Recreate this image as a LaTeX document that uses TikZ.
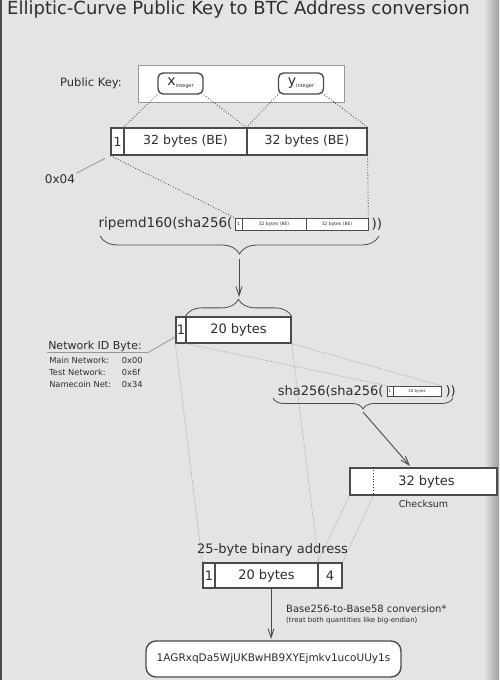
\documentclass[tikz,border=0pt]{standalone}
\usepackage{fontspec}
\setmainfont{DejaVu Sans}
\usetikzlibrary{calc,positioning,arrows.meta,decorations.pathreplacing,shapes}
\definecolor{bgray}{RGB}{228,228,228}
\definecolor{ink}{RGB}{45,45,45}
\definecolor{boxline}{RGB}{75,75,75}
\definecolor{faint}{RGB}{150,150,150}

\begin{document}
\begin{tikzpicture}[x=1pt,y=-1pt,
  cell/.style={rectangle,draw=boxline,fill=white,line width=1.3pt,inner sep=0pt,
    text=ink,minimum height=27pt,font=\fontsize{12.5}{14}\selectfont},
  tinycell/.style={rectangle,draw=boxline,fill=white,line width=0.6pt,inner sep=0pt,
    text=ink,font=\fontsize{4.5}{5}\selectfont},
  coord_box/.style={rectangle,rounded corners=5pt,draw=boxline,fill=white,
    line width=1.4pt,inner sep=0pt,minimum width=45pt,minimum height=21pt,text=ink},
  label/.style={text=ink,inner sep=1pt},
  map_line/.style={draw=ink,dotted,line width=0.8pt},
  faint_line/.style={draw=faint,densely dotted,line width=0.6pt},
  lead_line/.style={draw=faint,line width=0.8pt},
  flow/.style={-{Straight Barb[length=9pt,width=6pt]},draw=boxline,line width=0.9pt},
  brace_up/.style={decorate,decoration={brace,amplitude=17pt},draw=boxline,line width=0.8pt},
  brace_down/.style={decorate,decoration={brace,mirror,amplitude=#1},draw=boxline,line width=0.8pt}]

  % background and frame
  \fill[bgray] (0,0) rectangle (499,680);
  \shade[left color=bgray,right color=gray!75] (484,0) rectangle (499,680);
  \fill[boxline] (0,0) rectangle (2,680);
  \useasboundingbox (0,0) rectangle (499,680);

  \path (6,10) node(title) [label,anchor=west,font=\fontsize{18}{21}\selectfont]
    {Elliptic-Curve Public Key to BTC Address conversion};

  % public key
  \path (241,83.5) node(pk) [rectangle,draw=faint,fill=white,line width=0.6pt,
    minimum width=206pt,minimum height=37pt] {}
  (91,83) node(pklab) [label,font=\fontsize{11.5}{13}\selectfont] {Public Key:}
  (180.5,83.5) node(xi) [coord_box] {{\fontsize{14}{14}\selectfont x}\raisebox{-2pt}{\fontsize{5}{5}\selectfont integer}}
  (301,83.5) node(yi) [coord_box] {{\fontsize{14}{14}\selectfont y}\raisebox{-2pt}{\fontsize{5}{5}\selectfont integer}};

  % 65-byte key
  \path (117.5,141.5) node(c1) [cell,minimum width=13pt] {1}
  (185.5,141.5) node(c2) [cell,minimum width=123pt] {32 bytes (BE)}
  (307,141.5) node(c3) [cell,minimum width=120pt] {32 bytes (BE)}
  (60,179) node(hex) [label,font=\fontsize{12}{14}\selectfont] {0x04};

  \path (xi.south west) edge[map_line] (c2.north west)
  (xi.south east) edge[map_line] (c3.north west)
  (yi.south west) edge[map_line] (c3.north west)
  (yi.south east) edge[map_line] (c3.north east)
  (hex.north east) edge[lead_line,shorten >=6pt] (c1.south west);

  % ripemd160(sha256( ... ))
  \path (238.5,224) node(s1) [tinycell,minimum width=7pt,minimum height=12pt] {1}
  (274,224) node(s2) [tinycell,minimum width=64pt,minimum height=12pt] {32 bytes (BE)}
  (337,224) node(s3) [tinycell,minimum width=62pt,minimum height=12pt] {32 bytes (BE)}
  (s1.west) node(rip) [label,anchor=east,xshift=-1pt,font=\fontsize{13.5}{15}\selectfont] {ripemd160(sha256(}
  (s3.east) node(ripend) [label,anchor=west,xshift=2pt,font=\fontsize{13.5}{15}\selectfont] {))};

  \path (c1.south west) edge[map_line] (s1.north west)
  (c3.south east) edge[map_line] (s3.north east);

  \draw[brace_down=18pt] (100,236) -- (379,236);
  \coordinate (ripmid) at (239,259);

  % 21-byte hash
  \path (181,330) node(u1) [cell,minimum width=10pt,minimum height=26pt,font=\fontsize{13}{15}\selectfont] {1}
  (238.5,330) node(u2) [cell,minimum width=105pt,minimum height=26pt,font=\fontsize{13}{15}\selectfont] {20 bytes};
  \draw[brace_up] (u2.north west) -- (u2.north east);
  \coordinate (toptip) at (239,297);
  \path (ripmid) edge[flow] (toptip);

  % network id
  \path (95,346) node(netid) [label,font=\fontsize{11}{13}\selectfont] {Network ID Byte:}
  ($(netid.south west)+(1,0)$) node(netlist) [label,anchor=north west,yshift=-1pt,font=\fontsize{8.3}{12}\selectfont]
    {\begin{tabular}{@{}l@{\hspace{11pt}}l@{}}Main Network: & 0x00\\Test Network: & 0x6f\\Namecoin Net: & 0x34\end{tabular}};
  \draw[lead_line] (netid.south west) -- ($(netid.south east)+(5,0)$) -- ($(u1.west)!0.5!(u1.south west)$);

  % checksum
  \path (390,391) node(t1) [tinycell,minimum width=6pt,minimum height=10pt,font=\fontsize{4}{4}\selectfont] {1}
  (417,391) node(t2) [tinycell,minimum width=48pt,minimum height=10pt,font=\fontsize{4}{4}\selectfont] {20 bytes}
  (t1.west) node(sha) [label,anchor=east,xshift=-2pt,font=\fontsize{13}{15}\selectfont] {sha256(sha256(}
  (t2.east) node(shaend) [label,anchor=west,xshift=3pt,font=\fontsize{13}{15}\selectfont] {))};

  \path (u1.south east) edge[faint_line] (t1.north west)
  (u2.south east) edge[faint_line] (t2.north east);

  \draw[brace_down=11pt] (273,398) -- (453,398);
  \coordinate (shatip) at (363,412);

  \path (423.5,481.5) node(k) [cell,minimum width=147pt,font=\fontsize{13}{15}\selectfont] {\hspace{6pt}32 bytes}
  (k.south) node(ksum) [label,anchor=north,yshift=-3pt,font=\fontsize{9.5}{11}\selectfont] {Checksum};
  \coordinate (kt) at ($(k.north west)+(24,0)$);
  \coordinate (kb) at ($(k.south west)+(24,0)$);
  \coordinate (karrow) at (410,466);
  \path (kt) edge[map_line] (kb)
  (shatip) edge[flow] (karrow);

  % 25-byte address
  \path (209,575.5) node(v1) [cell,minimum width=12pt,minimum height=25pt,font=\fontsize{13}{15}\selectfont] {1}
  (266.5,575.5) node(v2) [cell,minimum width=103pt,minimum height=25pt,font=\fontsize{13}{15}\selectfont] {20 bytes}
  (330,575.5) node(v3) [cell,minimum width=24pt,minimum height=25pt,font=\fontsize{13}{15}\selectfont] {4}
  (272.5,550) node(binlab) [label,font=\fontsize{13}{15}\selectfont] {25-byte binary address};

  \path (u1.south west) edge[faint_line] (v1.north west)
  (u2.south east) edge[faint_line] (v2.north east)
  (k.south west) edge[faint_line] (v3.north west)
  (kb) edge[faint_line] (v3.north east);

  % base58
  \path (273.5,659) node(ad) [rectangle,rounded corners=10pt,draw=boxline,fill=white,line width=1.4pt,
    minimum width=255pt,minimum height=36pt,text=ink,font=\fontsize{10.5}{12}\selectfont]
    {1AGRxqDa5WjUKBwHB9XYEjmkv1ucoUUy1s}
  (285,609) node(b58) [label,anchor=west,font=\fontsize{10}{12}\selectfont] {Base256-to-Base58 conversion*}
  (285,621) node(b58note) [label,anchor=west,font=\fontsize{7}{8}\selectfont] {(treat both quantities like big-endian)};
  \coordinate (adtop) at (271,639);
  \path (v2.south -| adtop) edge[flow] (adtop);

\end{tikzpicture}
\end{document}
